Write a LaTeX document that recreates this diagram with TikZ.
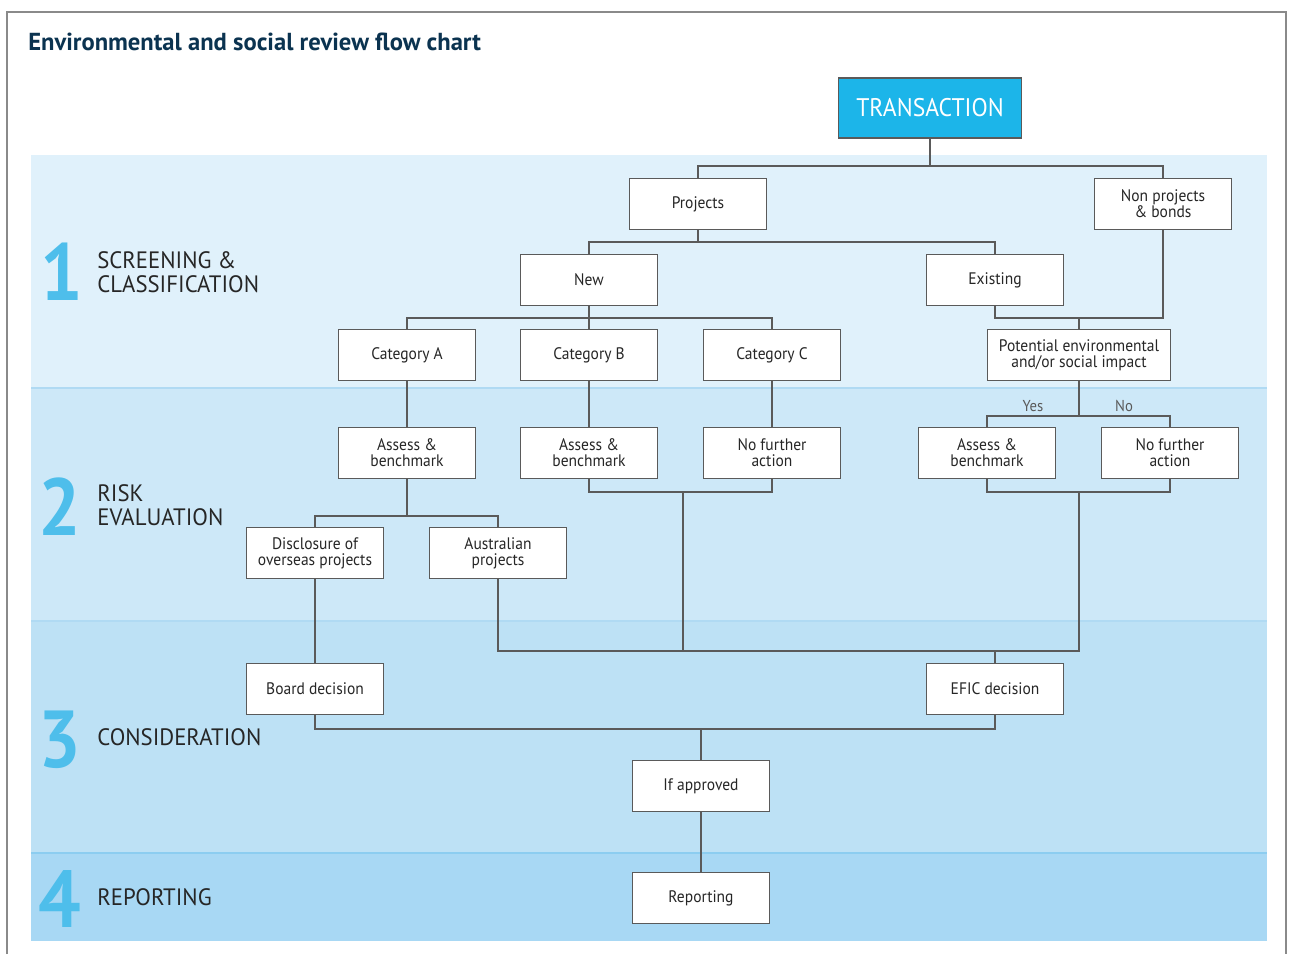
\documentclass[tikz,border=0pt]{standalone}
\usepackage{fontspec}
\setmainfont{PT Sans}[FakeStretch=0.93]
\newfontfamily\labelfont{PT Sans}[FakeStretch=0.96]
\newfontfamily\titlefont{PT Sans}
\usetikzlibrary{positioning, calc}

\definecolor{bandA}{HTML}{E0F1FB}
\definecolor{bandB}{HTML}{CDE8F8}
\definecolor{bandC}{HTML}{BDE1F5}
\definecolor{bandD}{HTML}{A8D8F4}
\definecolor{sepblue}{HTML}{B0DAF3}
\definecolor{sepdeep}{HTML}{8CCDF0}
\definecolor{linegray}{HTML}{5A5A5A}
\definecolor{framegray}{HTML}{8A8A8A}
\definecolor{textgray}{HTML}{262626}
\definecolor{titleblue}{HTML}{0B3350}
\definecolor{transblue}{HTML}{1CB5E9}
\definecolor{numblue}{HTML}{4EBEEB}

\tikzset{
  box/.style={draw=linegray, line width=0.8pt, fill=white, minimum width=2.74cm,
    minimum height=1.02cm, align=center, inner sep=1pt, text=textgray,
    font=\fontsize{9.5}{9.2}\selectfont},
  widebox/.style={box, minimum width=3.66cm},
  link/.style={draw=linegray, line width=0.8pt},
  stagenum/.style={anchor=base west, text=numblue, inner sep=0pt,
    font=\bfseries\fontsize{46}{46}\selectfont},
  stagename/.style={anchor=west, align=left, inner sep=0pt, text=textgray,
    font=\labelfont\fontsize{13.5}{13.8}\selectfont},
  answer/.style={text=linegray, inner sep=0pt, font=\fontsize{9}{10}\selectfont}
}

\begin{document}
\begin{tikzpicture}[x=0.02cm, y=-0.02cm]
\useasboundingbox (0,0) rectangle (1292,954);

% stage bands
\fill[bandA] (31,155) rectangle (1267,388);
\fill[bandB] (31,388) rectangle (1267,621);
\fill[bandC] (31,621) rectangle (1267,853);
\fill[bandD] (31,853) rectangle (1267,941);
\draw[sepblue, line width=0.6pt] (31,388) -- (1267,388);
\draw[sepblue, line width=0.6pt] (31,621) -- (1267,621);
\draw[sepdeep, line width=0.6pt] (31,853) -- (1267,853);

% frame and title
\draw[framegray, line width=0.6pt] (7,954) |- (1286,12) -- (1286,954);
\node[anchor=base west, inner sep=0pt, text=titleblue,
  font=\titlefont\bfseries\fontsize{14}{16}\selectfont] (title) at (28,50)
  {Environmental and social review flow chart};

% stage labels
\node[stagenum] (num1) at (40,300) {1};
\node[stagename] (stage1) at (97,272) {SCREENING \&\\CLASSIFICATION};
\node[stagenum] (num2) at (38,535) {2};
\node[stagename] (stage2) at (97,505) {RISK\\EVALUATION};
\node[stagenum] (num3) at (38,767) {3};
\node[stagename] (stage3) at (97,737) {CONSIDERATION};
\node[stagenum] (num4) at (38,927) {4};
\node[stagename] (stage4) at (97,897) {REPORTING};

% boxes
\node[box, fill=transblue, text=white, minimum width=3.66cm, minimum height=1.2cm,
  font=\fontsize{14.5}{16}\selectfont] (trans) at (930,108) {TRANSACTION};
\node[box] (proj) at (698,204) {Projects};
\node[box] (nonproj) at (1163,204) {Non projects\\\& bonds};
\node[box] (new) at (589,280) {New};
\node[box] (exist) at (995,280) {Existing};
\node[box] (catA) at (407,355) {Category A};
\node[box] (catB) at (589,355) {Category B};
\node[box] (catC) at (772,355) {Category C};
\node[widebox] (impact) at (1079,355) {Potential environmental\\and/or social impact};
\node[box] (assA) at (407,453) {Assess \&\\benchmark};
\node[box] (assB) at (589,453) {Assess \&\\benchmark};
\node[box] (nfaC) at (772,453) {No further\\action};
\node[box] (assR) at (987,453) {Assess \&\\benchmark};
\node[box] (nfaR) at (1170,453) {No further\\action};
\node[box] (disc) at (315,553) {Disclosure of\\overseas projects};
\node[box] (aus) at (498,553) {Australian\\projects};
\node[box] (board) at (315,689) {Board decision};
\node[box] (efic) at (995,689) {EFIC decision};
\node[box] (appr) at (701,786) {If approved};
\node[box] (rep) at (701,898) {Reporting};
\node[answer] (yes) at (1033,406) {Yes};
\node[answer] (no) at (1124,406) {No};

% junctions
\coordinate (j1) at (930,166);
\coordinate (j2) at (697,242);
\coordinate (j3) at (589,318);
\coordinate (j4) at (1079,318);
\coordinate (j5) at (1079,416);
\coordinate (j6) at (407,516);
\coordinate (j7) at (683,492);
\coordinate (j8) at (1079,492);
\coordinate (j9) at (1079,651);
\coordinate (j10) at (699,729);

% connectors
\draw[link] (trans.south) -- (trans.south |- j1);
\draw[link] (proj.north) |- (j1) -| (nonproj.north);
\draw[link] (proj.south) -- (proj.south |- j2);
\draw[link] (new.north) |- (j2) -| (exist.north);
\draw[link] (new.south) -- (catB.north);
\draw[link] (catA.north) |- (j3) -| (catC.north);
\draw[link] (exist.south) |- (j4) -| (nonproj.south);
\draw[link] (impact.north) -- (impact.north |- j4);
\draw[link] (catA) -- (assA);
\draw[link] (catB) -- (assB);
\draw[link] (catC) -- (nfaC);
\draw[link] (impact.south) -- (impact.south |- j5);
\draw[link] (assR.north) |- (j5) -| (nfaR.north);
\draw[link] (assB.south) |- (j7) -| (nfaC.south);
\draw[link] (assR.south) |- (j8) -| (nfaR.south);
\draw[link] (assA.south) -- (assA.south |- j6);
\draw[link] (disc.north) |- (j6) -| (aus.north);
\draw[link] (disc) -- (board);
\draw[link] (aus.south) |- (j9) -- (j8);
\draw[link] (j7) -- (j7 |- j9);
\draw[link] (efic.north) -- (efic.north |- j9);
\draw[link] (board.south) |- (j10) -| (efic.south);
\draw[link] (appr.north) -- (appr.north |- j10);
\draw[link] (appr) -- (rep);
\end{tikzpicture}
\end{document}
